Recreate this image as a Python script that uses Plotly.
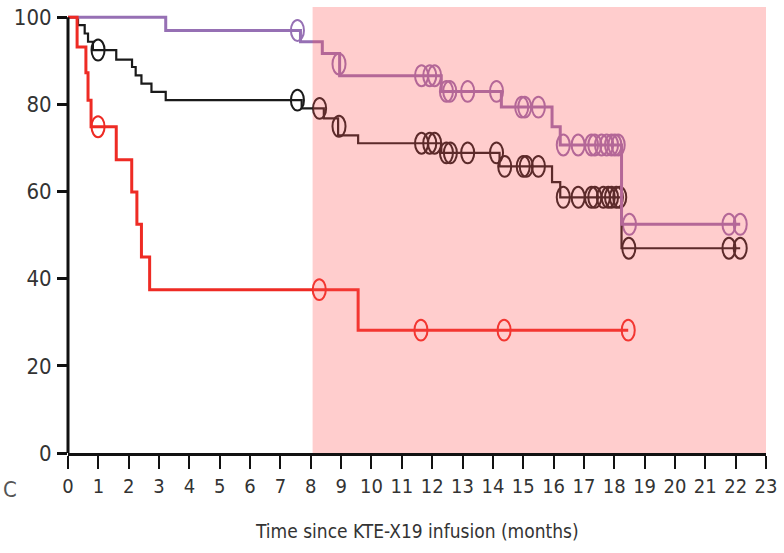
import plotly.graph_objects as go

# Kaplan-Meier step curves: event times (months) and survival (%) after each step
overall_t = [0, 0.33, 0.55, 0.66, 0.82, 1.59, 2.11, 2.23, 2.42, 2.75, 3.22, 7.70, 8.43, 8.90, 9.56,
             12.30, 14.22, 15.95, 16.22, 18.24, 22.15]
overall_s = [100, 98.2, 96.3, 94.4, 92.5, 90.3, 88.6, 86.7, 84.8, 82.9, 81.0, 79.1, 76.8, 72.9, 71.1,
             68.9, 65.8, 62.2, 58.7, 47.0, 47.0]

responders_t = [0, 3.22, 7.66, 8.38, 8.95, 12.30, 14.28, 15.95, 16.22, 18.24, 22.15]
responders_s = [100, 97.0, 94.4, 91.7, 86.6, 83.0, 79.4, 74.9, 70.7, 52.5, 52.5]

nonresp_t = [0, 0.30, 0.59, 0.66, 0.76, 1.59, 2.10, 2.27, 2.42, 2.69, 9.56, 18.46]
nonresp_s = [100, 93.2, 87.3, 81.0, 74.9, 67.3, 59.9, 52.5, 45.0, 37.5, 28.2, 28.2]

# Censored observations (time, survival at the censoring mark)
overall_cens_t = [0.99, 7.56, 8.29, 8.93, 11.65, 11.92, 12.08, 12.47, 12.60, 13.17, 14.12, 14.39,
                  15.00, 15.10, 15.50, 16.32, 16.81, 17.25, 17.36, 17.64, 17.80, 17.91, 18.07, 18.18,
                  18.48, 21.78, 22.15]
overall_cens_s = [92.5, 81.0, 79.1, 75.0, 71.1, 71.1, 71.1, 68.9, 68.9, 68.9, 68.9, 65.8,
                  65.8, 65.8, 65.8, 58.7, 58.7, 58.7, 58.7, 58.7, 58.7, 58.7, 58.7, 58.7,
                  47.0, 47.0, 47.0]

responders_cens_t = [7.56, 8.93, 11.65, 11.92, 12.08, 12.47, 12.58, 13.17, 14.12, 14.95, 15.05, 15.50,
                     16.32, 16.81, 17.25, 17.36, 17.58, 17.75, 17.91, 18.02, 18.13, 18.50, 21.78, 22.15]
responders_cens_s = [97.0, 89.3, 86.6, 86.6, 86.6, 83.0, 83.0, 83.0, 83.0, 79.4, 79.4, 79.4,
                     70.7, 70.7, 70.7, 70.7, 70.7, 70.7, 70.7, 70.7, 70.7, 52.5, 52.5, 52.5]

nonresp_cens_t = [0.99, 8.28, 11.63, 14.37, 18.46]
nonresp_cens_s = [74.9, 37.5, 28.2, 28.2, 28.2]

x_ticks = list(range(0, 24))
y_ticks = [0, 20, 40, 60, 80, 100]
shade_start = 8.06
x_max = 23
y_max = 101

FONT = "DejaVu Sans Condensed, Liberation Sans Narrow, Arial Narrow, sans-serif"
TXT = "#333333"

BLACK = "#1a1a1a"
PURPLE = "#9670b4"
RED = "#ee2b24"

fig = go.Figure()

series = [
    (overall_t, overall_s, overall_cens_t, overall_cens_s, BLACK, 2.2),
    (responders_t, responders_s, responders_cens_t, responders_cens_s, PURPLE, 3),
    (nonresp_t, nonresp_s, nonresp_cens_t, nonresp_cens_s, RED, 3),
]

shapes = []
for t, s, ct, cs, col, w in series:
    fig.add_trace(go.Scatter(x=t, y=s, mode="lines", line=dict(color=col, width=w, shape="hv"),
                             showlegend=False, hoverinfo="skip"))
    # censoring ticks drawn as open ellipses centred on each censored time
    for cx, cy in zip(ct, cs):
        shapes.append(dict(type="circle", xref="x", yref="y", layer="below",
                           x0=cx - 0.215, x1=cx + 0.215, y0=cy - 2.4, y1=cy + 2.4,
                           line=dict(color=col, width=2), fillcolor="rgba(0,0,0,0)"))

# y-axis spine from 0 to 100
shapes.append(dict(type="line", xref="paper", yref="y", x0=0, x1=0, y0=0, y1=100,
                   line=dict(color="#111111", width=3), layer="above"))
# translucent highlight over the later follow-up period
shapes.append(dict(type="rect", xref="paper", yref="paper", layer="above",
                   x0=shade_start / x_max, x1=1, y0=0, y1=102.4 / y_max,
                   fillcolor="rgb(255,83,83)", opacity=0.29, line=dict(width=0)))

fig.update_layout(
    width=784, height=553,
    margin=dict(l=68, r=18, t=13, b=100, autoexpand=False),
    paper_bgcolor="white", plot_bgcolor="white",
    shapes=shapes,
    font=dict(family=FONT, color=TXT),
    xaxis=dict(range=[0, x_max], tickvals=x_ticks, ticktext=[str(v) for v in x_ticks],
               automargin=False, tickangle=0,
               showgrid=False, zeroline=False, showline=True, linecolor="#111111", linewidth=3,
               ticks="outside", ticklen=13, tickwidth=2, tickcolor="#111111",
               tickfont=dict(family=FONT, size=20, color=TXT)),
    yaxis=dict(range=[0, y_max], tickvals=y_ticks, ticktext=[str(v) for v in y_ticks],
               automargin=False, ticklabelstandoff=1,
               showgrid=False, zeroline=False, showline=False,
               ticks="outside", ticklen=10, tickwidth=3, tickcolor="#111111",
               tickfont=dict(family=FONT, size=22, color=TXT)),
    annotations=[
        dict(text="Time since KTE-X19 infusion (months)", xref="paper", yref="paper",
             x=0.5, y=0, yshift=-78, xanchor="center", yanchor="middle", showarrow=False,
             font=dict(family=FONT, size=19, color=TXT)),
        dict(text="C", xref="paper", yref="paper", x=-68 / 698, y=0, xshift=1, yshift=-36,
             xanchor="left", yanchor="middle", showarrow=False,
             font=dict(family=FONT, size=22, color="#555555")),
    ],
)

fig.write_html("out.html")
